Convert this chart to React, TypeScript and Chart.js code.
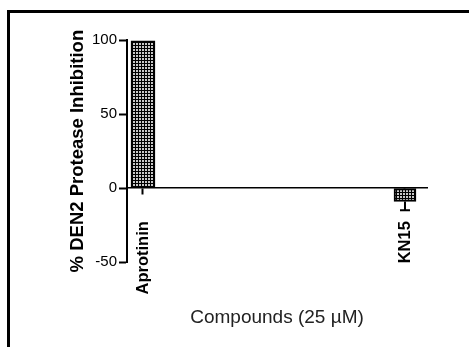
import React, { useEffect, useRef } from "react";
import { Chart, registerables } from "chart.js";

Chart.register(...registerables);

const CATEGORIES = ["Aprotinin", "KN15"];
const POSITIONS = [1, 2];
const INHIBITION = [99.5, -9];
const ERRORS = [0, 6];
const Y_TICKS = [-50, 0, 50, 100];
const BAR_WIDTHS = [24, 22];

const Y_TITLE = "% DEN2 Protease Inhibition";
const X_TITLE = "Compounds (25 \u00b5M)";

function makePattern(): CanvasPattern | string {
  const c = document.createElement("canvas");
  c.width = 3;
  c.height = 3;
  const g = c.getContext("2d");
  if (!g) return "#555";
  g.fillStyle = "#000";
  g.fillRect(0, 0, 3, 3);
  g.fillStyle = "#c8c8c8";
  g.fillRect(1, 1, 2, 2);
  return g.createPattern(c, "repeat") || "#555";
}

const errorBars = {
  id: "errorBars",
  afterDatasetsDraw(chart: any) {
    const ctx = chart.ctx;
    const yScale = chart.scales.y;
    chart.data.datasets.forEach((ds: any, di: number) => {
      const meta = chart.getDatasetMeta(di);
      meta.data.forEach((el: any, i: number) => {
        const err = ds.errors ? ds.errors[i] : 0;
        if (!err) return;
        const v = ds.data[i].y;
        const end = v + (v < 0 ? -err : err);
        const y0 = yScale.getPixelForValue(v);
        const y1 = yScale.getPixelForValue(end);
        ctx.save();
        ctx.strokeStyle = "#000";
        ctx.lineWidth = 2;
        ctx.beginPath();
        ctx.moveTo(el.x, y0);
        ctx.lineTo(el.x, y1);
        ctx.moveTo(el.x - 5, y1);
        ctx.lineTo(el.x + 5, y1);
        ctx.stroke();
        ctx.restore();
      });
    });
  },
};

export default function App() {
  const ref = useRef<HTMLCanvasElement>(null);

  useEffect(() => {
    if (!ref.current) return;
    const pattern = makePattern();
    Chart.defaults.font.family = "'Liberation Sans', Arial, sans-serif";
    const chart = new Chart(ref.current, {
      type: "bar",
      data: {
        datasets: CATEGORIES.map((c, i) => ({
          label: c,
          data: [{ x: POSITIONS[i], y: INHIBITION[i] }],
          errors: [ERRORS[i]],
          barThickness: BAR_WIDTHS[i],
          backgroundColor: pattern,
          borderColor: "#000",
          borderWidth: 2,
          borderSkipped: false,
          grouped: false,
        })) as any,
      },
      options: {
        animation: false,
        responsive: false,
        devicePixelRatio: 1,
        layout: { padding: { left: 60, top: 40, right: 42, bottom: 18 } },
        plugins: {
          legend: { display: false },
          tooltip: { enabled: false },
          title: {
            display: true,
            text: X_TITLE,
            position: "bottom",
            fullSize: false,
            color: "#222",
            font: { size: 19, weight: "normal" },
            padding: { top: 44, bottom: 0 },
          },
        },
        scales: {
          x: {
            type: "linear",
            position: { y: 0 } as any,
            offset: false,
            min: 0.939,
            max: 2.084,
            afterBuildTicks: (s: any) => {
              s.ticks = POSITIONS.map((p) => ({ value: p }));
            },
            ticks: {
              autoSkip: false,
              minRotation: 90,
              maxRotation: 90,
              padding: 27,
              color: "#000",
              font: { size: 16.5, weight: "bold" },
              callback: (v: any) => {
                const i = POSITIONS.indexOf(Number(v));
                return i >= 0 ? CATEGORIES[i] : "";
              },
            },
            grid: {
              offset: false,
              drawOnChartArea: false,
              drawTicks: true,
              tickLength: 6,
              tickWidth: 2,
              tickColor: "#000",
            },
            border: { display: true, color: "#000", width: 1.5 },
          },
          y: {
            type: "linear",
            min: -50,
            max: 100,
            afterBuildTicks: (s: any) => {
              s.ticks = Y_TICKS.map((v) => ({ value: v }));
            },
            afterFit: (s: any) => {
              s.width = 67;
            },
            ticks: {
              padding: 2,
              color: "#000",
              font: { size: 15 },
            },
            grid: {
              drawOnChartArea: false,
              drawTicks: true,
              tickLength: 8,
              tickWidth: 2,
              tickColor: "#000",
            },
            border: { display: true, color: "#000", width: 2 },
            title: {
              display: true,
              text: Y_TITLE,
              color: "#000",
              font: { size: 18.5, weight: "bold" },
              padding: { top: 7, bottom: 0 },
            },
          },
        },
      },
      plugins: [errorBars],
    });
    return () => chart.destroy();
  }, []);

  return (
    <>
      <div
        style={{
          position: "fixed",
          left: 7,
          top: 10,
          width: 462,
          height: 337,
          boxSizing: "border-box",
          borderTop: "3px solid #000",
          borderLeft: "3px solid #000",
        }}
      />
      <canvas
        ref={ref}
        width={469}
        height={347}
        style={{ position: "fixed", left: 0, top: 0, width: 469, height: 347 }}
      />
    </>
  );
}
